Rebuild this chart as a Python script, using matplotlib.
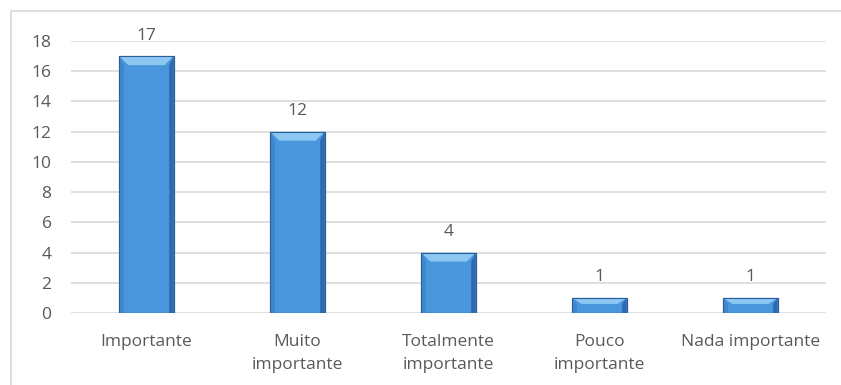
import matplotlib
matplotlib.use("Agg")
import matplotlib.pyplot as plt
from matplotlib.patches import Polygon, Rectangle

categories = ["Importante", "Muito\nimportante", "Totalmente\nimportante",
              "Pouco\nimportante", "Nada importante"]
values = [17, 12, 4, 1, 1]
yticks = [0, 2, 4, 6, 8, 10, 12, 14, 16, 18]

plt.rcParams['font.family'] = ['Open Sans', 'DejaVu Sans']
text_color = "#595959"

fig = plt.figure(figsize=(8.41, 3.85), dpi=100)
# chart frame
fig.patches.append(Rectangle((11 / 841, -0.1), 1.0, (385 - 11) / 385 + 0.1,
                             transform=fig.transFigure, fill=False,
                             edgecolor="#d9d9d9", linewidth=1.2))

ax = fig.add_axes([71 / 841, 72 / 385, (826 - 71) / 841, (313 - 41) / 385])
ax.set_xlim(-0.5, len(values) - 0.5)
ax.set_ylim(0, 18)
ax.set_yticks(yticks)
ax.set_xticks(range(len(values)))
ax.set_xticklabels(categories, linespacing=1.6)
for s in ax.spines.values():
    s.set_visible(False)
ax.grid(axis="y", color="#d9d9d9", linewidth=1.2)
ax.set_axisbelow(True)
ax.tick_params(length=0, labelsize=12.5, labelcolor=text_color)
ax.tick_params(axis="x", pad=15)
ax.tick_params(axis="y", pad=14)

width = 0.36
bars = ax.bar(range(len(values)), values, width=width, color="#4a96dc",
              edgecolor="#2f64a0", linewidth=0.8, zorder=2)

# bevel facets for each bar
fig.canvas.draw()
px_w, px_h = (ax.transData.transform((1, 1)) - ax.transData.transform((0, 0)))
bx = 9 / px_w   # bevel width in data units (x)
by = 9 / px_h   # bevel width in data units (y)
for b in bars:
    x0, x1 = b.get_x(), b.get_x() + b.get_width()
    y0, y1 = 0, b.get_height()
    bh = min(by, (y1 - y0) / 2.5)
    bw = min(bx, (x1 - x0) / 2)
    # top facet (lighter)
    ax.add_patch(Polygon([(x0, y1), (x1, y1), (x1 - bw, y1 - bh), (x0 + bw, y1 - bh)],
                         closed=True, facecolor="#8cc8f2", edgecolor="none", zorder=3))
    # left facet
    ax.add_patch(Polygon([(x0, y1), (x0 + bw * 0.5, y1 - bh), (x0 + bw * 0.5, y0), (x0, y0)],
                         closed=True, facecolor="#3f86cc", edgecolor="none", zorder=3))
    # right facet (darker)
    ax.add_patch(Polygon([(x1, y1), (x1 - bw * 0.5, y1 - bh), (x1 - bw * 0.5, y0), (x1, y0)],
                         closed=True, facecolor="#2f6aae", edgecolor="none", zorder=3))
    # outline
    ax.add_patch(Rectangle((x0, y0), x1 - x0, y1 - y0, fill=False,
                           edgecolor="#2a5f9c", linewidth=0.8, zorder=4))

for i, v in enumerate(values):
    ax.annotate(str(v), (i, v), xytext=(0, 9), textcoords="offset points",
                ha="center", va="bottom", fontsize=12.5, color=text_color)

fig.savefig("out.png", dpi=100)
